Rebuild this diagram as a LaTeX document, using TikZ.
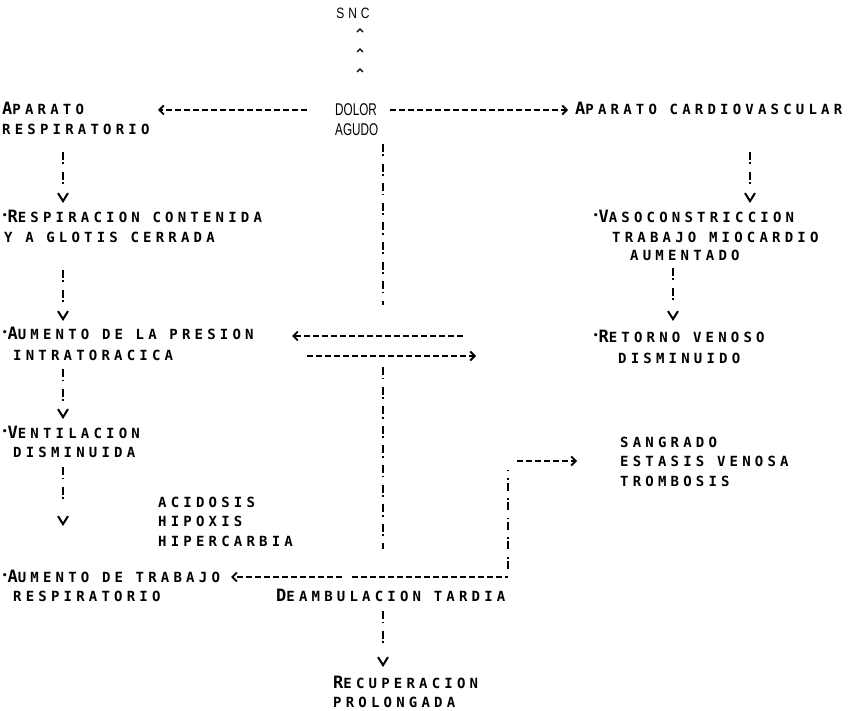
\documentclass[tikz,border=0pt]{standalone}
\usepackage{fontspec}
\usepackage{graphicx}
\usetikzlibrary{arrows.meta,decorations.markings}
\newfontfamily\tw[LetterSpace=30]{DejaVu Sans Mono}
\newfontfamily\hv{Liberation Sans}
\newcommand\ini[1]{{\fontsize{17}{17}\selectfont #1}}
\newcommand\bul{\raisebox{4pt}{\fontsize{9}{9}\selectfont •}}
\newcommand\cond[2]{\scalebox{#1}[1]{#2}}
% vertical connector: marks from #2 to #3, then a separate "v" tip ending at #4
\newcommand\vcon[4][]{\draw[vln,#1] (#2) -- (#3) ([yshift=1pt]#4) -- (#4);}
\tikzset{
  txt/.style={anchor=base west, inner sep=0pt, font=\tw\bfseries\fontsize{14}{14}\selectfont},
  dol/.style={anchor=base west, inner sep=0pt, font=\hv\fontsize{17}{17}\selectfont},
  harr/.style={line width=1.6pt, dash pattern=on 6pt off 3pt, -{Straight Barb[length=4.5pt,width=9pt,line width=1.8pt]}},
  hln/.style={line width=1.6pt, dash pattern=on 6pt off 3pt},
  vln/.style={line width=1.7pt, dash pattern=on 8pt off 2.5pt on 1.8pt off 7.3pt, -{Straight Barb[length=8pt,width=10pt,line width=2pt]}},
  vcol/.style={line width=1.7pt, dash pattern=on 8pt off 2.5pt on 1.8pt off 7.3pt},
  caret/.style={line width=1.3pt},
  carets/.style={decoration={markings,
      mark=at position 0.143 with {\draw[caret] (-2pt,3pt) -- (1pt,0pt) -- (-2pt,-3pt);},
      mark=at position 0.5 with {\draw[caret] (-2pt,3pt) -- (1pt,0pt) -- (-2pt,-3pt);},
      mark=at position 0.857 with {\draw[caret] (-2pt,3pt) -- (1pt,0pt) -- (-2pt,-3pt);}},
    decorate}
}
\begin{document}
\begin{tikzpicture}[x=1pt,y=-1pt]
\useasboundingbox (0,0) rectangle (857,711);
% texts
\node[anchor=base, inner sep=0pt, font=\hv\fontsize{15}{15}\selectfont] (snc) at (353,18.5) {\cond{0.8}{S\,\,N\,\,C}};
\node[dol] (dolor) at (335,116) {\cond{0.69}{DOLOR}};
\node[dol] (agudo) at (335,135.5) {\cond{0.69}{AGUDO}};
\node[txt] (aparatoL) at (2,115) {\ini{A}PARATO};
\node[txt] (respL) at (2,134.5) {RESPIRATORIO};
\node[txt] (cardio) at (575,115) {\ini{A}PARATO CARDIOVASCULAR};
\node[txt] (resp1) at (2,223) {\bul\ini{R}ESPIRACION CONTENIDA};
\node[txt] (resp2) at (4,242.5) {Y A GLOTIS CERRADA};
\node[txt] (vaso) at (593,223) {\bul\ini{V}ASOCONSTRICCION};
\node[txt] (trab) at (612,242.5) {TRABAJO MIOCARDIO};
\node[txt] (aum) at (630,261) {AUMENTADO};
\node[txt] (pres1) at (2,340) {\bul\ini{A}UMENTO DE LA PRESION};
\node[txt] (pres2) at (13,360) {INTRATORACICA};
\node[txt] (ret1) at (593,343) {\bul\ini{R}ETORNO VENOSO};
\node[txt] (ret2) at (618,363) {DISMINUIDO};
\node[txt] (vent1) at (2,438) {\bul\ini{V}ENTILACION};
\node[txt] (vent2) at (13,457.5) {DISMINUIDA};
\node[txt] (acid) at (158,507) {ACIDOSIS};
\node[txt] (hipox) at (158,526.5) {HIPOXIS};
\node[txt] (hiper) at (158,546) {HIPERCARBIA};
\node[txt] (sang) at (620,447) {SANGRADO};
\node[txt] (esta) at (620,466.5) {ESTASIS VENOSA};
\node[txt] (trom) at (620,486) {TROMBOSIS};
\node[txt] (tr1) at (2,582) {\bul\ini{A}UMENTO DE TRABAJO};
\node[txt] (tr2) at (13,601.5) {RESPIRATORIO};
\node[txt] (deamb) at (276,601.5) {\ini{D}EAMBULACION TARDIA};
\node[txt] (recup) at (333,688) {\ini{R}ECUPERACION};
\node[txt] (prol) at (333,707) {PROLONGADA};
% connector end points
\coordinate (cb) at (360,78); \coordinate (ct) at (360,22);
\coordinate (h1s) at (307,110); \coordinate (h1e) at (158,110);
\coordinate (h2s) at (390,110); \coordinate (h2e) at (568,110);
\coordinate (h3s) at (463,336); \coordinate (h3e) at (292,336);
\coordinate (h4s) at (307,356); \coordinate (h4e) at (476,356);
\coordinate (h5s) at (517,461); \coordinate (h5e) at (577,461);
\coordinate (h6s) at (342,577); \coordinate (h6e) at ([xshift=11pt]tr1.east |- 0,577);
\coordinate (h7s) at (352,577); \coordinate (h7e) at (508,577);
\coordinate (v1s) at (63,152); \coordinate (v1m) at (63,184); \coordinate (v1e) at (63,203);
\coordinate (v2s) at (750,152); \coordinate (v2m) at (750,184); \coordinate (v2e) at (750,203);
\coordinate (v3s) at (63,270); \coordinate (v3m) at (63,302); \coordinate (v3e) at (63,321);
\coordinate (v4s) at (673,268); \coordinate (v4m) at (673,300); \coordinate (v4e) at (673,321);
\coordinate (v5s) at (63,369); \coordinate (v5m) at (63,401); \coordinate (v5e) at (63,419);
\coordinate (v6s) at (63,467); \coordinate (v6m) at (63,499); \coordinate (v6e) at (63,526);
\coordinate (v7s) at (383,144); \coordinate (v7e) at (383,305);
\coordinate (v8s) at (383,367); \coordinate (v8e) at (383,549);
\coordinate (v9s) at (508,569); \coordinate (v9e) at (508,470);
\coordinate (v10s) at (383,611); \coordinate (v10m) at (383,643); \coordinate (v10e) at (383,667);
% connectors
\path[carets] (cb) -- (ct);
\draw[harr] (h1s) -- (h1e);
\draw[harr] (h2s) -- (h2e);
\draw[harr] (h3s) -- (h3e);
\draw[harr] (h4s) -- (h4e);
\draw[harr] (h5s) -- (h5e);
\draw[harr] (h6s) -- (h6e);
\draw[hln] (h7s) -- (h7e);
\vcon{v1s}{v1m}{v1e}
\vcon{v2s}{v2m}{v2e}
\vcon{v3s}{v3m}{v3e}
\vcon[line width=1.1pt]{v4s}{v4m}{v4e}
\vcon{v5s}{v5m}{v5e}
\vcon{v6s}{v6m}{v6e}
\draw[vcol] (v7s) -- (v7e);
\draw[vcol] (v8s) -- (v8e);
\draw[vcol] (v9s) -- (v9e);
\vcon{v10s}{v10m}{v10e}
\end{tikzpicture}
\end{document}
